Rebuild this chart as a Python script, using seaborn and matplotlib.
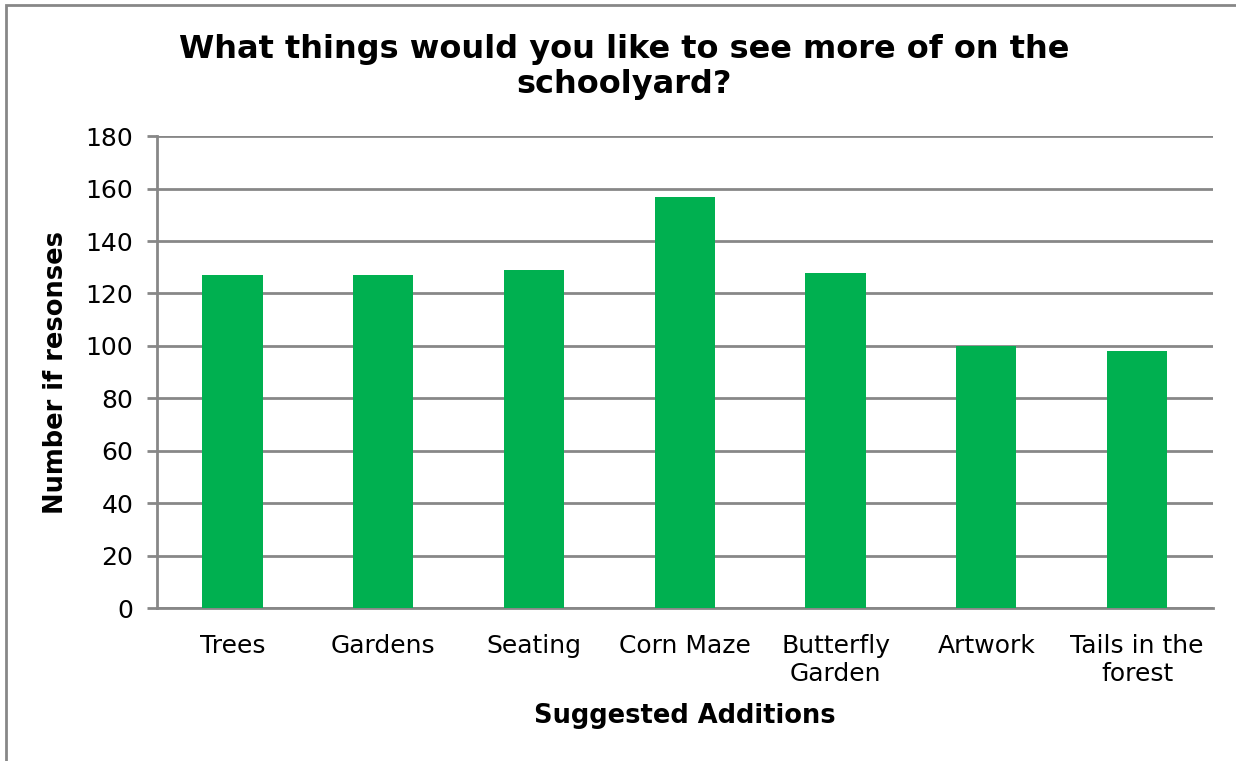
import matplotlib
matplotlib.use("Agg")
import matplotlib.pyplot as plt
import seaborn as sns
import pandas as pd

# datos del gráfico
categorias = ["Trees", "Gardens", "Seating", "Corn Maze",
              "Butterfly\nGarden", "Artwork", "Tails in the\nforest"]
respuestas = [127, 127, 129, 157, 128, 100, 98]

df = pd.DataFrame({"categoria": categorias, "respuestas": respuestas})

sns.set_theme(style="white")
plt.rcParams["font.family"] = ["DejaVu Sans"]
plt.rcParams["text.color"] = "black"
plt.rcParams["axes.labelcolor"] = "black"

gris = "#878787"

fig = plt.figure(figsize=(12.36, 7.61), dpi=100)
ax = fig.add_axes([0.127, 0.201, 0.854, 0.620])

sns.barplot(data=df, x="categoria", y="respuestas", color="#00B050",
            saturation=1, width=0.4, linewidth=0, ax=ax, zorder=3)

ax.set_ylim(0, 180)
ax.set_yticks(range(0, 181, 20))
ax.yaxis.grid(True, color=gris, linewidth=2)
ax.set_axisbelow(True)

for s in ["top", "right"]:
    ax.spines[s].set_visible(False)
for s in ["left", "bottom"]:
    ax.spines[s].set_color(gris)
    ax.spines[s].set_linewidth(2)

ax.tick_params(axis="y", left=True, length=7, width=2, color=gris,
               labelsize=18, pad=10, labelcolor="black")
ax.tick_params(axis="x", bottom=False, labelsize=18, pad=13,
               labelcolor="black")

ax.set_xlabel("Suggested Additions", fontsize=18.5, fontweight="bold",
              labelpad=12, color="black")
ax.set_ylabel("Number if resonses", fontsize=18.5, fontweight="bold",
              labelpad=12, color="black")

fig.text(0.505, 0.912, "What things would you like to see more of on the\nschoolyard?",
         ha="center", va="center", fontsize=23, fontweight="bold",
         linespacing=1.15, color="black")

# marco exterior
fig.patches.append(plt.Rectangle((6 / 1236, -0.05), 1.1, 1 - 5 / 761 + 0.05,
                                 transform=fig.transFigure, fill=False,
                                 edgecolor=gris, linewidth=2))

fig.savefig("out.png", dpi=100)
